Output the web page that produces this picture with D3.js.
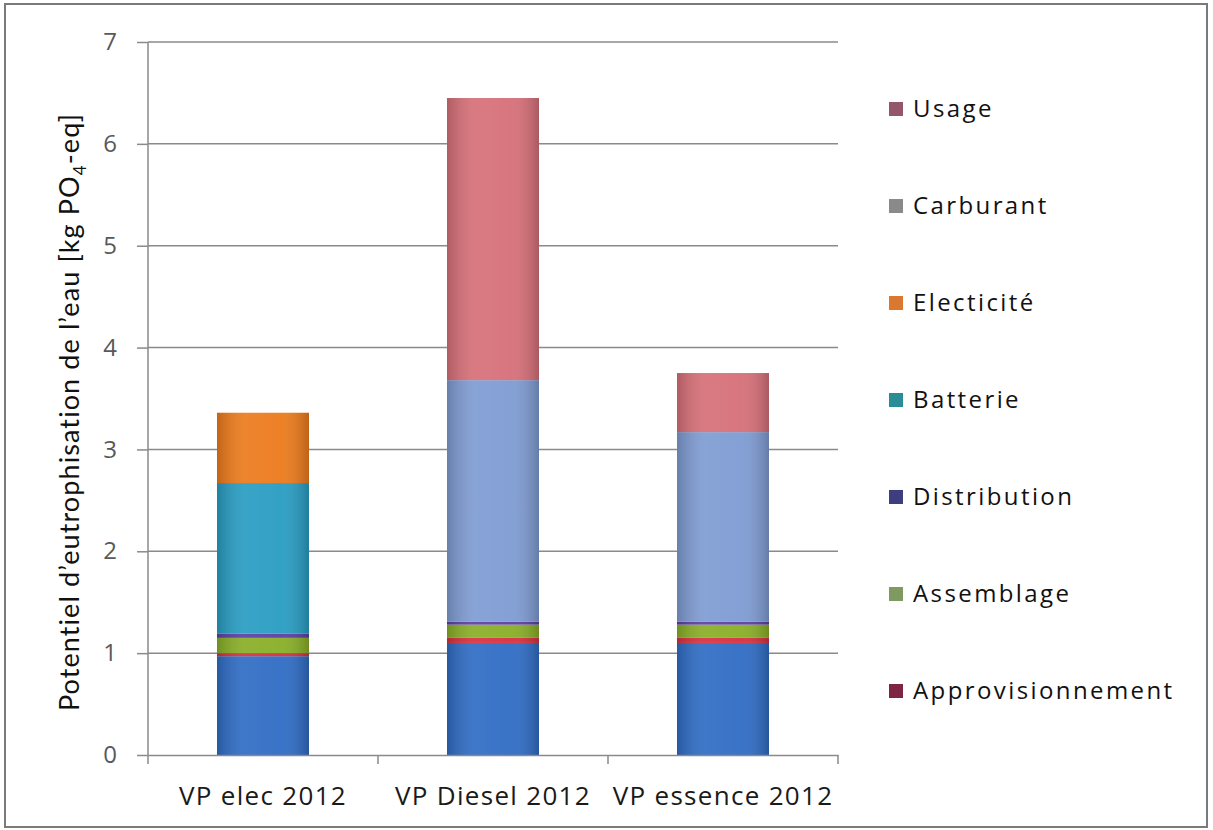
<!DOCTYPE html>
<html><head><meta charset="utf-8">
<script src="https://cdn.jsdelivr.net/npm/d3@7"></script>
<style>body{margin:0;background:#fff}svg{display:block}</style>
</head><body>
<script>
const categories = ["VP elec 2012", "VP Diesel 2012", "VP essence 2012"];
const seriesNames = ["Fabrication", "Approvisionnement", "Assemblage", "Distribution", "Batterie", "Electicité", "Carburant", "Usage"];
const fabrication       = [0.97, 1.10, 1.10];
const approvisionnement = [0.03, 0.05, 0.05];
const assemblage        = [0.15, 0.13, 0.13];
const distribution      = [0.04, 0.03, 0.03];
const batterie          = [1.48, 0, 0];
const electicite        = [0.69, 0, 0];
const carburant         = [0, 2.37, 1.86];
const usage             = [0, 2.77, 0.58];
const yTicks = [0, 1, 2, 3, 4, 5, 6, 7];
const legendNames = ["Usage", "Carburant", "Electicité", "Batterie", "Distribution", "Assemblage", "Approvisionnement"];

(function () {
const seriesValues = [fabrication, approvisionnement, assemblage, distribution, batterie, electicite, carburant, usage];
const barColors = {"Fabrication":"#2f6cc4","Approvisionnement":"#d6303e","Assemblage":"#88ae26","Distribution":"#5a3fa4",
  "Batterie":"#289cc2","Electicité":"#ec7a1c","Carburant":"#7e9bd2","Usage":"#d66f78"};
const legendColors = {"Usage":"#94566a","Carburant":"#8a8a8a","Electicité":"#d9782e","Batterie":"#2b8c96",
  "Distribution":"#3d3d80","Assemblage":"#7f9a60","Approvisionnement":"#7e2444"};

const W = 1213, H = 830;
const svg = d3.select("body").append("svg").attr("width", W).attr("height", H);
const defs = svg.append("defs");
const g1 = defs.append("linearGradient").attr("id","shade").attr("x1","0").attr("x2","1").attr("y1","0").attr("y2","0");
g1.append("stop").attr("offset","0").attr("stop-color","#000").attr("stop-opacity",0.18);
g1.append("stop").attr("offset","0.3").attr("stop-color","#fff").attr("stop-opacity",0.08);
g1.append("stop").attr("offset","0.7").attr("stop-color","#fff").attr("stop-opacity",0.05);
g1.append("stop").attr("offset","1").attr("stop-color","#000").attr("stop-opacity",0.2);

svg.append("rect").attr("x",5).attr("y",4).attr("width",1202).attr("height",823)
  .attr("fill","none").attr("stroke","#7a7a7a").attr("stroke-width",2);

const pL = 148, pR = 838, pT = 42, pB = 755;
const x = d3.scaleBand().domain(categories).range([pL, pR]).paddingInner(0.6).paddingOuter(0.3);
const y = d3.scaleLinear().domain([0, 7]).range([pB, pT]);

svg.append("g").selectAll("line").data(yTicks.filter(d => d > 0)).join("line")
  .attr("x1", pL).attr("x2", pR).attr("y1", d => y(d)).attr("y2", d => y(d))
  .attr("stroke", "#8a8a8a").attr("stroke-width", 1.5);

const rows = categories.map((c, i) => { const r = {cat: c}; seriesNames.forEach((s, j) => r[s] = seriesValues[j][i]); return r; });
const stack = d3.stack().keys(seriesNames)(rows);
const gl = svg.append("g");
stack.forEach(layer => {
  const segs = layer.filter(d => d[1] - d[0] > 0);
  gl.append("g").selectAll("rect").data(segs).join("rect")
    .attr("x", d => x(d.data.cat)).attr("width", x.bandwidth())
    .attr("y", d => y(d[1])).attr("height", d => y(d[0]) - y(d[1]))
    .attr("fill", barColors[layer.key]);
  gl.append("g").selectAll("rect").data(segs).join("rect")
    .attr("x", d => x(d.data.cat)).attr("width", x.bandwidth())
    .attr("y", d => y(d[1])).attr("height", d => y(d[0]) - y(d[1]))
    .attr("fill", "url(#shade)");
});

const yAxis = svg.append("g").attr("transform", `translate(${pL},0)`)
  .call(d3.axisLeft(y).tickValues(yTicks).tickSize(11).tickPadding(20).tickFormat(d3.format("d")));
yAxis.select(".domain").attr("stroke", "#8a8a8a").attr("stroke-width", 1.5).attr("d", `M0,${pT}V${pB}`);
yAxis.selectAll(".tick line").attr("stroke", "#8a8a8a").attr("stroke-width", 1.5);
yAxis.selectAll(".tick text").attr("font-family", "'Open Sans', sans-serif").attr("font-size", 24).attr("fill", "#595959");

const xAxis = svg.append("g").attr("transform", `translate(0,${pB})`)
  .call(d3.axisBottom(x).tickSize(0));
xAxis.select(".domain").attr("stroke", "#8a8a8a").attr("stroke-width", 1.5);
xAxis.selectAll(".tick text").attr("y", 50).attr("dy", 0)
  .attr("font-family", "'Open Sans', sans-serif").attr("font-size", 26).attr("letter-spacing", 1.3).attr("fill", "#1a1a1a");
const bounds = [pL, ...categories.map(c => x(c) + x.bandwidth() / 2 + x.step() / 2)];
xAxis.append("g").selectAll("line").data(bounds).join("line")
  .attr("x1", d => d).attr("x2", d => d).attr("y1", 0).attr("y2", 9)
  .attr("stroke", "#8a8a8a").attr("stroke-width", 1.5);

const yl = svg.append("text").attr("transform", `translate(79,412) rotate(-90)`)
  .attr("text-anchor", "middle").attr("font-family", "Lato, sans-serif").attr("font-size", 27)
  .attr("letter-spacing", 1.1).attr("fill", "#111");
yl.append("tspan").text("Potentiel d\u2019eutrophisation de l\u2019eau [kg PO");
yl.append("tspan").attr("font-size", 17).attr("dy", 7).text("4");
yl.append("tspan").attr("dy", -7).text("-eq]");

const lg = svg.append("g");
const ly = d3.scalePoint().domain(legendNames).range([117, 699]);
legendNames.forEach(n => {
  lg.append("rect").attr("x", 889).attr("y", ly(n) - 15).attr("width", 14).attr("height", 14).attr("fill", legendColors[n]);
  lg.append("text").attr("x", 913).attr("y", ly(n))
    .attr("font-family", "'Open Sans', sans-serif").attr("font-size", 24).attr("letter-spacing", 2.4).attr("fill", "#111").text(n);
});
})();
</script>
</body></html>
